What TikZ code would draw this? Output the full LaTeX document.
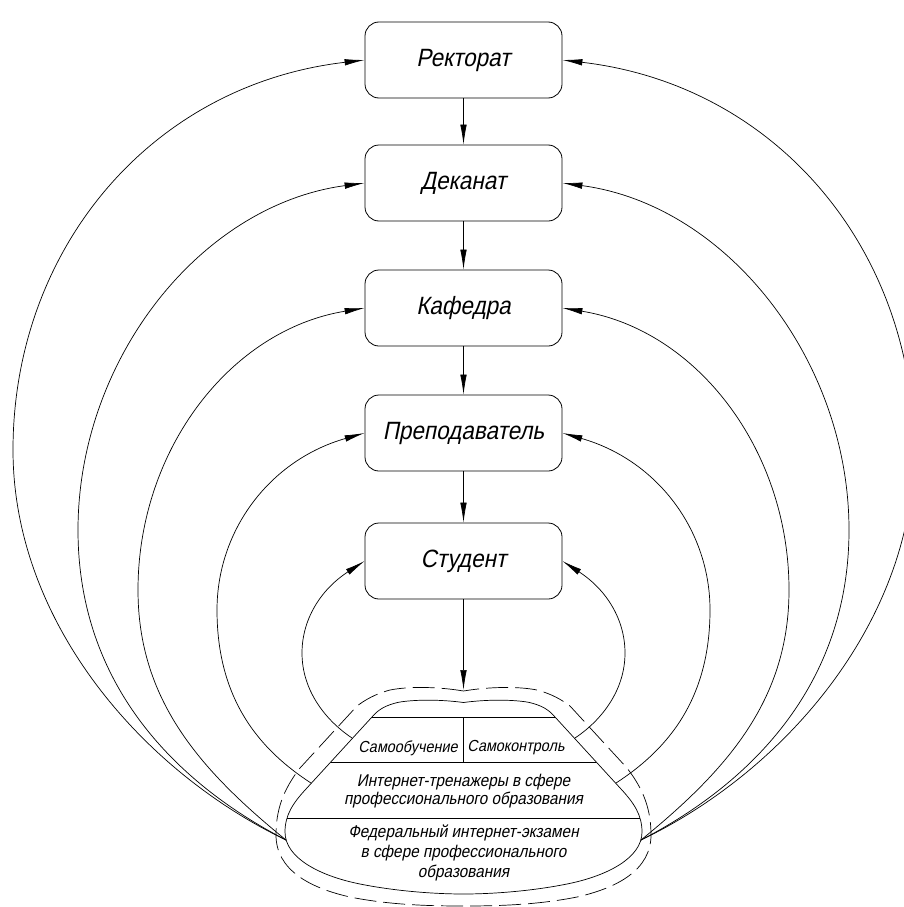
\documentclass[tikz,border=0pt]{standalone}
\usepackage{fontspec}
\newfontfamily\gost{Liberation Sans}[FakeSlant=0.2,FakeStretch=0.9]
\usetikzlibrary{arrows.meta}
\begin{document}
\begin{tikzpicture}[x=1pt,y=-1pt,
  box/.style={draw, rounded corners=14pt, minimum width=197pt, minimum height=76pt,
    line width=0.8pt, font=\gost\fontsize{25}{28}\selectfont, inner sep=0pt},
  link/.style={line width=0.7pt},
  tip/.style={-{Latex[length=20pt,width=6.5pt]}},
  backtip/.style={{Latex[length=20pt,width=6.5pt]}-},
  cell/.style={font=\gost\fontsize{16}{18}\selectfont, align=center, inner sep=0pt},
  lbl/.style={font=\gost\fontsize{17}{18}\selectfont, align=center, inner sep=0pt},
  lblb/.style={font=\gost\fontsize{17}{20}\selectfont, align=center, inner sep=0pt},
  dashline/.style={line width=0.7pt, dash pattern=on 22pt off 7pt}
]
\useasboundingbox (0,0) rectangle (904,907);

% boxes
\node[box] (R) at (463.5,60) {Ректорат};
\node[box] (D) at (463.5,183) {Деканат};
\node[box] (K) at (463.5,308) {Кафедра};
\node[box] (P) at (463.5,433) {Преподаватель};
\node[box] (S) at (463.5,561) {Студент};

% vertical arrows
\coordinate (top) at (463.5,690);
\draw[link,tip] (R) -- (D);
\draw[link,tip] (D) -- (K);
\draw[link,tip] (K) -- (P);
\draw[link,tip] (P) -- (S);
\draw[link,tip] (S) -- (top);

% bottom shape: solid outline
\draw[link] (463.5,702.5) .. controls (445,700) and (420,699) .. (400,702)
  .. controls (385,705) and (378,710) .. (372,717) -- (306,789)
  .. controls (293,803) and (285,815) .. (285,832)
  .. controls (285,858) and (320,876) .. (360,884)
  .. controls (400,892) and (440,894) .. (463.5,894)
  .. controls (487,894) and (527,892) .. (567,884)
  .. controls (607,876) and (642,858) .. (642,832)
  .. controls (642,815) and (634,803) .. (621,789) -- (555,717)
  .. controls (549,710) and (542,705) .. (527,702)
  .. controls (507,699) and (482,700) .. (463.5,702.5) -- cycle;

% dashed outline
\draw[dashline] (463.5,691) .. controls (440,687) and (410,686) .. (390,690)
  .. controls (375,694) and (365,700) .. (357,706) -- (300,768)
  .. controls (283,790) and (276,810) .. (276,835)
  .. controls (276,870) and (310,888) .. (350,897)
  .. controls (390,905) and (430,906) .. (463.5,906)
  .. controls (497,906) and (537,905) .. (577,897)
  .. controls (617,888) and (651,870) .. (651,835)
  .. controls (651,810) and (644,790) .. (627,768) -- (570,706)
  .. controls (562,700) and (552,694) .. (537,690)
  .. controls (517,686) and (487,687) .. (463.5,691) -- cycle;

% table lines
\draw[link] (372,717) -- (555,717);
\draw[link] (463.5,717) -- (463.5,762);
\draw[link] (331,762) -- (596,762);
\draw[link] (287,818) -- (640,818);

% texts
\node[cell] (t1) at (408,748) {Самообучение};
\node[cell] (t2) at (516,748) {Самоконтроль};
\node[lbl] (t3) at (463.5,791) {Интернет-тренажеры в сфере\\профессионального образования};
\node[lblb] (t4) at (463.5,853) {Федеральный интернет-экзамен\\в сфере профессионального\\образования};

% arc end points
\coordinate (cL) at (286,840);
\coordinate (cR) at (641,840);
\coordinate (pL) at (311,783);
\coordinate (pR) at (616,783);
\coordinate (sL) at (352,738);
\coordinate (sR) at (575,738);

% left arcs
\draw[link,backtip] (R.west) .. controls (150,85) and (13,250) .. (13,450)
  .. controls (13,620) and (140,770) .. (cL);
\draw[link,backtip] (D.west) .. controls (200,205) and (78,360) .. (78,530)
  .. controls (78,680) and (170,780) .. (cL);
\draw[link,backtip] (K.west) .. controls (230,330) and (138,450) .. (138,590)
  .. controls (138,700) and (200,770) .. (cL);
\draw[link,backtip] (P.west) .. controls (270,460) and (217,530) .. (217,610)
  .. controls (217,700) and (260,750) .. (pL);
\draw[link,backtip] (S.west) .. controls (320,590) and (302,620) .. (302,653)
  .. controls (302,690) and (325,720) .. (sL);

% right arcs
\draw[link,backtip] (R.east) .. controls (777,85) and (914,250) .. (914,450)
  .. controls (914,620) and (787,770) .. (cR);
\draw[link,backtip] (D.east) .. controls (727,205) and (849,360) .. (849,530)
  .. controls (849,680) and (757,780) .. (cR);
\draw[link,backtip] (K.east) .. controls (697,330) and (789,450) .. (789,590)
  .. controls (789,700) and (727,770) .. (cR);
\draw[link,backtip] (P.east) .. controls (657,460) and (710,530) .. (710,610)
  .. controls (710,700) and (667,750) .. (pR);
\draw[link,backtip] (S.east) .. controls (607,590) and (625,620) .. (625,653)
  .. controls (625,690) and (602,720) .. (sR);
\end{tikzpicture}
\end{document}
